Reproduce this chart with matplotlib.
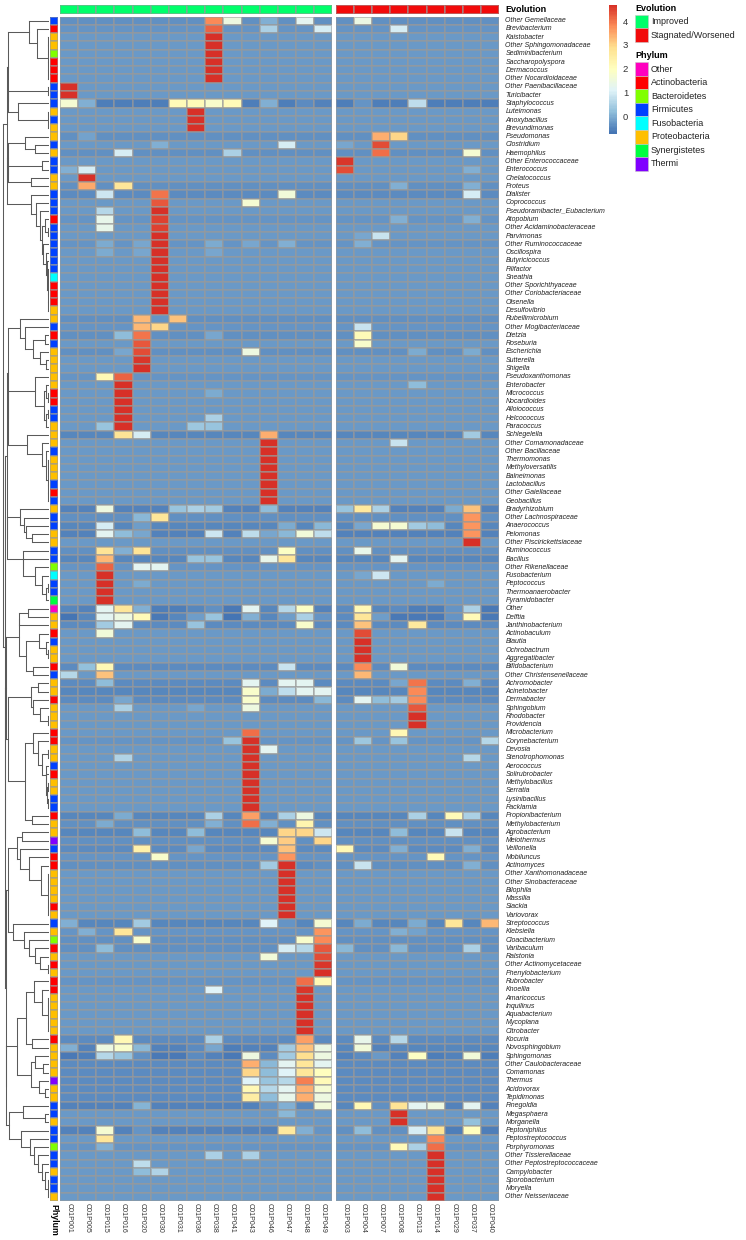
import matplotlib
matplotlib.use("Agg")
import matplotlib.pyplot as plt
import numpy as np
from matplotlib.cm import ScalarMappable
from matplotlib.colors import LinearSegmentedColormap, ListedColormap, Normalize
from matplotlib.patches import Rectangle

plt.rcParams['font.family'] = ['Liberation Sans', 'DejaVu Sans']

W, H = 746, 1240

SAMPLES_IMPROVED = ["001", "005", "015", "016", "020", "030", "031", "036",
                    "038", "041", "043", "046", "047", "048", "049"]
SAMPLES_WORSE = ["003", "004", "007", "008", "013", "014", "029", "037", "040"]

TAXA = [
    "Other Gemellaceae", "Brevibacterium", "Kaistobacter", "Other Sphingomonadaceae",
    "Sediminibacterium", "Saccharopolyspora", "Dermacoccus", "Other Nocardioidaceae",
    "Other Paenibacillaceae", "Turicibacter", "Staphylococcus", "Luteimonas",
    "Anoxybacillus", "Brevundimonas", "Pseudomonas", "Clostridium", "Haemophilus",
    "Other Enterococcaceae", "Enterococcus", "Chelatococcus", "Proteus", "Dialister",
    "Coprococcus", "Pseudoramibacter_Eubacterium", "Atopobium",
    "Other Acidaminobacteraceae", "Parvimonas", "Other Ruminococcaceae", "Oscillospira",
    "Butyricicoccus", "Filifactor", "Sneathia", "Other Sporichthyaceae",
    "Other Coriobacteriaceae", "Olsenella", "Desulfovibrio", "Rubellimicrobium",
    "Other Mogibacteriaceae", "Dietzia", "Roseburia", "Escherichia", "Sutterella",
    "Shigella", "Pseudoxanthomonas", "Enterobacter", "Micrococcus", "Nocardioides",
    "Alloiococcus", "Helcococcus", "Paracoccus", "Schlegelella", "Other Comamonadaceae",
    "Other Bacillaceae", "Thermomonas", "Methyloversatilis", "Balneimonas", "Lactobacillus",
    "Other Gaiellaceae", "Geobacillus", "Bradyrhizobium", "Other Lachnospiraceae",
    "Anaerococcus", "Pelomonas", "Other Piscirickettsiaceae", "Ruminococcus", "Bacillus",
    "Other Rikenellaceae", "Fusobacterium", "Peptococcus", "Thermoanaerobacter",
    "Pyramidobacter", "Other", "Delftia", "Janthinobacterium", "Actinobaculum", "Blautia",
    "Ochrobactrum", "Aggregatibacter", "Bifidobacterium", "Other Christensenellaceae",
    "Achromobacter", "Acinetobacter", "Dermabacter", "Sphingobium", "Rhodobacter",
    "Providencia", "Microbacterium", "Corynebacterium", "Devosia", "Stenotrophomonas",
    "Aerococcus", "Solirubrobacter", "Methylobacillus", "Serratia", "Lysinibacillus",
    "Facklamia", "Propionibacterium", "Methylobacterium", "Agrobacterium", "Meiothermus",
    "Veillonella", "Mobiluncus", "Actinomyces", "Other Xanthomonadaceae",
    "Other Sinobacteraceae", "Bilophila", "Massilia", "Slackia", "Variovorax",
    "Streptococcus", "Klebsiella", "Cloacibacterium", "Varibaculum", "Ralstonia",
    "Other Actinomycetaceae", "Phenylobacterium", "Rubrobacter", "Knoellia", "Amaricoccus",
    "Inquilinus", "Aquabacterium", "Mycoplana", "Citrobacter", "Kocuria", "Novosphingobium",
    "Sphingomonas", "Other Caulobacteraceae", "Comamonas", "Thermus", "Acidovorax",
    "Tepidimonas", "Finegoldia", "Megasphaera", "Morganella", "Peptoniphilus",
    "Peptostreptococcus", "Porphyromonas", "Other Tissierellaceae",
    "Other Peptostreptococcaceae", "Campylobacter", "Sporobacterium", "Moryella",
    "Other Neisseriaceae",
]

# one letter per taxon, keys of PHYLUM_COLORS
PHYLA = ("FAPPBAAAFF" "FPFPPFPFFP" "PFFFAFFFFF" "FUAAAPPFAF" "PPPPPAAFFP"
         "PPFPPPFAFP" "FFPPFFBUFF" "SOPPAFPPAF" "PPAPPPAAPP" "FAPPFFAPPT"
         "FAAPPPPAPF" "PBAPAPAAPP" "PPPAPPPPTP" "PFFPFFBFFP" "FFP")

PHYLUM_NAMES = ["Other", "Actinobacteria", "Bacteroidetes", "Firmicutes",
                "Fusobacteria", "Proteobacteria", "Synergistetes", "Thermi"]
PHYLUM_CODES = ["O", "A", "B", "F", "U", "P", "S", "T"]
PHYLUM_COLORS = ["#FF00BF", "#FF0000", "#80FF00", "#0040FF",
                 "#00FFFF", "#FFBF00", "#00FF40", "#8000FF"]

EVOLUTION_NAMES = ["Improved", "Stagnated/Worsened"]
EVOLUTION_COLORS = ["#00FF6A", "#F20A0A"]

HEAT_COLORS = ["#4575B4", "#91BFDB", "#E0F3F8", "#FFFFBF", "#FEE090", "#FC8D59", "#D73027"]
VMIN, VMAX = -0.72, 4.7

# background level of each row
ROW_BASE = [
    -.35, -.3, -.25, -.25, -.25, -.25, -.25, -.25, -.25, -.25,
    -.6, -.25, -.25, -.25, -.35, -.25, -.35, -.25, -.25, -.25,
    -.35, -.4, -.28, -.28, -.3, -.25, -.28, -.3, -.25, -.25,
    -.25, -.25, -.25, -.25, -.25, -.25, -.35, -.3, -.35, -.25,
    -.35, -.25, -.25, -.3, -.25, -.25, -.25, -.25, -.25, -.28,
    -.45, -.25, -.25, -.25, -.25, -.25, -.25, -.25, -.25, -.55,
    -.35, -.45, -.55, -.25, -.35, -.5, -.3, -.28, -.25, -.25,
    -.25, -.5, -.45, -.4, -.25, -.25, -.25, -.25, -.4, -.28,
    -.4, -.45, -.4, -.28, -.25, -.25, -.28, -.3, -.25, -.25,
    -.25, -.25, -.25, -.25, -.25, -.25, -.5, -.35, -.45, -.35,
    -.4, -.3, -.35, -.25, -.25, -.25, -.25, -.25, -.25, -.5,
    -.3, -.35, -.35, -.28, -.25, -.25, -.3, -.28, -.25, -.25,
    -.25, -.25, -.25, -.4, -.45, -.55, -.4, -.4, -.4, -.4,
    -.4, -.55, -.25, -.25, -.55, -.28, -.33, -.25, -.25, -.25,
    -.25, -.25, -.25,
]

# cells that differ from the row background, by sample number
CELLS = {
    "Other Gemellaceae": {"038": 3.8, "041": 1.5, "046": 0.0, "048": 1.2, "004": 1.4},
    "Brevibacterium": {"038": 4.2, "046": 0.5, "049": 1.0, "008": 1.0},
    "Kaistobacter": {"038": 4.7},
    "Other Sphingomonadaceae": {"038": 4.7},
    "Sediminibacterium": {"038": 4.7},
    "Saccharopolyspora": {"038": 4.7},
    "Dermacoccus": {"038": 4.7},
    "Other Nocardioidaceae": {"038": 4.7},
    "Other Paenibacillaceae": {"001": 4.7},
    "Turicibacter": {"001": 4.7},
    "Staphylococcus": {"001": 1.7, "005": 0.0, "031": 2.1, "036": 2.1, "038": 1.8, "041": 2.1,
                       "046": 0.0, "048": -.4, "049": -.55, "013": 0.7, "004": -.3},
    "Luteimonas": {"036": 4.7},
    "Anoxybacillus": {"036": 4.7},
    "Brevundimonas": {"036": 4.7},
    "Pseudomonas": {"005": -.15, "007": 3.4, "008": 3.0},
    "Clostridium": {"030": 0.0, "047": 1.0, "003": -.1, "007": 4.4},
    "Haemophilus": {"016": 1.0, "041": 0.5, "007": 4.1, "037": 1.7},
    "Other Enterococcaceae": {"003": 4.6},
    "Enterococcus": {"001": 0.0, "005": 1.0, "003": 4.4, "037": 0.0},
    "Chelatococcus": {"005": 4.7},
    "Proteus": {"005": 3.5, "016": 2.7, "008": 0.0, "037": 0.0},
    "Dialister": {"015": 0.9, "030": 4.0, "047": 1.6, "037": 1.0},
    "Coprococcus": {"030": 4.3, "043": 1.7},
    "Pseudoramibacter_Eubacterium": {"015": 0.6, "030": 4.7},
    "Atopobium": {"015": 1.3, "030": 4.5, "008": 0.0, "037": 0.0},
    "Other Acidaminobacteraceae": {"015": 1.3, "030": 4.5},
    "Parvimonas": {"030": 4.7, "004": -.1, "007": 0.8},
    "Other Ruminococcaceae": {"015": -.05, "020": -.1, "030": 4.7, "038": -.05, "043": -.1,
                              "047": 0.0, "004": 0.0},
    "Oscillospira": {"015": -.05, "020": -.1, "030": 4.7, "038": -.1},
    "Butyricicoccus": {"030": 4.7},
    "Filifactor": {"030": 4.7},
    "Sneathia": {"030": 4.7},
    "Other Sporichthyaceae": {"030": 4.7},
    "Other Coriobacteriaceae": {"030": 4.7},
    "Olsenella": {"030": 4.7},
    "Desulfovibrio": {"030": 4.7},
    "Rubellimicrobium": {"020": 3.3, "030": -.3, "031": 3.2},
    "Other Mogibacteriaceae": {"020": 3.3, "030": 3.0, "004": 0.8},
    "Dietzia": {"016": 0.2, "020": 4.0, "038": -.1, "004": 2.1},
    "Roseburia": {"020": 4.3, "004": 1.8},
    "Escherichia": {"016": -.1, "020": 4.4, "043": 1.5, "013": -.05, "037": -.05},
    "Sutterella": {"020": 4.6},
    "Shigella": {"020": 4.7},
    "Pseudoxanthomonas": {"015": 2.2, "016": 4.2},
    "Enterobacter": {"016": 4.7, "013": 0.2},
    "Micrococcus": {"016": 4.7, "038": -.05},
    "Nocardioides": {"016": 4.7},
    "Alloiococcus": {"016": 4.7},
    "Helcococcus": {"016": 4.7, "038": 0.5},
    "Paracoccus": {"015": 0.3, "016": 4.7, "036": 0.35, "038": 0.3},
    "Schlegelella": {"016": 2.8, "020": 1.0, "046": 3.4, "037": 0.4},
    "Other Comamonadaceae": {"046": 4.7, "008": 0.8},
    "Other Bacillaceae": {"046": 4.7},
    "Thermomonas": {"046": 4.7},
    "Methyloversatilis": {"046": 4.7},
    "Balneimonas": {"046": 4.7},
    "Lactobacillus": {"046": 4.7},
    "Other Gaiellaceae": {"046": 4.7},
    "Geobacillus": {"046": 4.7},
    "Bradyrhizobium": {"015": 1.5, "031": 0.3, "036": 0.5, "038": 0.4, "046": 0.2, "003": 0.3,
                       "004": 2.6, "007": 0.5, "029": -.05, "037": 3.2},
    "Other Lachnospiraceae": {"020": 0.1, "030": 2.7, "037": 3.7},
    "Anaerococcus": {"015": 1.0, "020": -.2, "047": -.05, "049": 0.1, "004": -.1, "007": 1.7,
                     "008": 1.7, "013": 0.4, "014": 0.2, "037": 3.7},
    "Pelomonas": {"015": 1.2, "016": 0.2, "020": -.1, "038": 0.9, "043": 0.7, "046": -.1,
                  "047": 0.1, "048": 1.6, "049": 0.7, "037": 3.7},
    "Other Piscirickettsiaceae": {"037": 4.7},
    "Ruminococcus": {"015": 2.8, "016": 0.0, "020": 2.8, "047": 1.9, "004": 1.3},
    "Bacillus": {"015": 3.3, "036": 0.3, "038": 0.3, "046": 1.3, "047": 2.7, "008": 1.2},
    "Other Rikenellaceae": {"015": 4.2, "020": 1.2, "030": 1.2},
    "Fusobacterium": {"015": 4.7, "004": -.1, "007": 0.9},
    "Peptococcus": {"015": 4.7, "020": -.05, "014": -.05},
    "Thermoanaerobacter": {"015": 4.7},
    "Pyramidobacter": {"015": 4.7},
    "Other": {"005": -.55, "015": 1.2, "016": 2.7, "020": 0.0, "030": -.6, "031": -.6, "036": -.45,
              "038": -.35, "041": -.65, "043": 1.2, "047": 0.6, "048": 1.9, "049": -.55, "003": -.4,
              "004": 2.2, "007": -.45, "008": -.4, "013": -.6, "014": -.6, "029": -.3, "037": 0.5,
              "040": -.65},
    "Delftia": {"001": -.7, "005": -.5, "015": 1.2, "016": 1.5, "020": 2.1, "030": -.65, "031": -.5,
                "036": -.2, "038": 0.3, "041": -.7, "043": 0.0, "047": -.2, "048": 0.5, "049": -.3,
                "003": -.4, "004": 2.7, "007": -.2, "008": -.65, "013": -.65, "014": -.65, "029": -.3,
                "037": 2.1, "040": -.65},
    "Janthinobacterium": {"015": 0.4, "016": 1.2, "036": 0.3, "048": 1.8, "004": 3.2, "013": 2.6},
    "Actinobaculum": {"015": 1.6, "004": 4.4},
    "Blautia": {"004": 4.7},
    "Ochrobactrum": {"004": 4.7},
    "Aggregatibacter": {"004": 4.7},
    "Bifidobacterium": {"005": 0.25, "015": 2.2, "047": 0.8, "004": 3.8, "008": 1.6},
    "Other Christensenellaceae": {"001": 0.6, "015": 3.2, "004": 3.3},
    "Achromobacter": {"015": 0.2, "043": 1.2, "047": 1.2, "048": 1.2, "008": -.1, "013": 4.0,
                      "037": 0.0},
    "Acinetobacter": {"043": 1.8, "046": -.05, "047": 0.7, "048": 1.2, "049": 1.2, "013": 3.8},
    "Dermabacter": {"016": -.1, "043": 1.8, "049": 0.1, "004": 1.2, "007": 0.2, "008": 0.4, "013": 3.8},
    "Sphingobium": {"016": 0.5, "036": -.1, "043": 1.5, "013": 4.3},
    "Rhodobacter": {"013": 4.7},
    "Providencia": {"013": 4.7},
    "Microbacterium": {"043": 4.1, "008": 2.2},
    "Corynebacterium": {"041": 0.3, "043": 4.7, "004": 0.35, "008": 0.3, "040": 0.6},
    "Devosia": {"043": 4.7, "046": 1.2},
    "Stenotrophomonas": {"016": 0.55, "043": 4.7, "037": 0.6},
    "Aerococcus": {"043": 4.7},
    "Solirubrobacter": {"043": 4.7},
    "Methylobacillus": {"043": 4.7},
    "Serratia": {"043": 4.7},
    "Lysinibacillus": {"043": 4.7},
    "Facklamia": {"043": 4.7},
    "Propionibacterium": {"016": -.05, "038": 0.5, "043": 3.6, "047": 0.5, "048": 1.5, "013": 0.5,
                          "029": 2.1, "037": 0.5},
    "Methylobacterium": {"015": -.05, "038": 0.0, "043": 4.1, "046": 0.0, "048": 2.3},
    "Agrobacterium": {"020": 0.2, "036": 0.15, "047": 3.0, "048": 3.0, "049": 0.9, "008": 0.2, "029": 0.8},
    "Meiothermus": {"046": 1.7, "047": 3.1, "049": 3.0},
    "Veillonella": {"020": 2.4, "036": -.1, "047": 3.2, "003": 2.2, "008": 0.0, "037": 0.0},
    "Mobiluncus": {"030": 1.8, "047": 3.7, "014": 2.1},
    "Actinomyces": {"046": 0.4, "047": 4.7, "048": -.4, "004": 0.8, "037": 0.0},
    "Other Xanthomonadaceae": {"047": 4.7},
    "Other Sinobacteraceae": {"047": 4.7},
    "Bilophila": {"047": 4.7},
    "Massilia": {"047": 4.7},
    "Slackia": {"047": 4.7},
    "Variovorax": {"047": 4.7},
    "Streptococcus": {"001": 0.0, "020": 0.4, "046": 1.1, "047": -.3, "049": 1.7, "004": -.05,
                      "013": -.05, "029": 2.7, "040": 3.3},
    "Klebsiella": {"005": 0.0, "016": 2.7, "049": 3.7, "008": 0.0, "013": -.15},
    "Cloacibacterium": {"020": 1.8, "048": 1.8, "049": 3.8},
    "Varibaculum": {"015": 0.15, "047": 1.0, "048": 0.6, "049": 4.3, "003": 0.1, "008": 0.1, "037": 0.5},
    "Ralstonia": {"046": 1.6, "049": 4.4},
    "Other Actinomycetaceae": {"049": 4.6},
    "Phenylobacterium": {"049": 4.7},
    "Rubrobacter": {"048": 4.1, "049": 2.2},
    "Knoellia": {"038": 1.1, "048": 4.6},
    "Amaricoccus": {"048": 4.7},
    "Inquilinus": {"048": 4.7},
    "Aquabacterium": {"048": 4.7},
    "Mycoplana": {"048": 4.7},
    "Citrobacter": {"048": 4.7},
    "Kocuria": {"016": 2.2, "038": 0.5, "048": 3.6, "004": 1.3, "008": 0.6},
    "Novosphingobium": {"001": 0.0, "005": -.55, "015": 1.5, "016": 1.8, "020": 0.1, "030": -.55,
                        "031": -.55, "036": -.4, "038": -.1, "041": -.6, "043": -.55, "046": -.55,
                        "047": 0.4, "048": 3.2, "049": 1.4, "004": 1.6, "007": -.55, "008": -.5},
    "Sphingomonas": {"001": -.65, "005": -.6, "015": 0.6, "016": 0.3, "020": -.35, "030": -.65,
                     "031": -.65, "036": -.4, "041": -.65, "043": 1.5, "046": -.4, "047": 0.4,
                     "048": 2.9, "049": 1.5, "004": -.4, "007": -.25, "013": 1.9, "014": -.6,
                     "037": 1.6, "040": -.6},
    "Other Caulobacteraceae": {"043": 3.4, "046": 0.1, "047": 1.2, "048": 2.7, "049": 1.2},
    "Comamonas": {"043": 3.0, "046": 0.2, "047": 1.1, "048": 2.7, "049": 2.0},
    "Thermus": {"043": 1.1, "046": 0.3, "047": 0.6, "048": 3.9, "049": 2.1},
    "Acidovorax": {"043": 2.2, "046": 0.6, "047": 1.2, "048": 3.4, "049": 1.7},
    "Tepidimonas": {"043": 2.5, "046": 0.2, "047": 1.3, "048": 3.4, "049": 1.5},
    "Finegoldia": {"020": 0.05, "046": -.3, "047": 0.0, "048": -.5, "049": 1.6, "003": -.45,
                   "004": 2.2, "007": -.35, "008": 2.8, "013": 1.2, "014": 1.5, "037": 1.2},
    "Megasphaera": {"047": 0.1, "008": 4.7},
    "Morganella": {"008": 4.7, "037": 0.25},
    "Peptoniphilus": {"015": 1.7, "020": -.3, "047": 2.6, "048": 0.0, "049": -.3, "003": -.35,
                      "004": 0.2, "007": -.35, "008": -.35, "013": 1.0, "014": 2.8, "029": -.6,
                      "037": 2.0, "040": -.6},
    "Peptostreptococcus": {"015": 2.7, "014": 3.8},
    "Porphyromonas": {"015": 0.0, "008": 2.1, "013": 0.5, "014": 4.1},
    "Other Tissierellaceae": {"038": 0.5, "043": 0.5, "014": 4.7},
    "Other Peptostreptococcaceae": {"020": 0.7, "014": 4.7},
    "Campylobacter": {"020": 0.2, "030": 0.55, "014": 4.7},
    "Sporobacterium": {"014": 4.7},
    "Moryella": {"014": 4.7},
    "Other Neisseriaceae": {"014": 4.7},
}

# row tree as (height, child, child...), an int child is that many neighbouring leaves
TREE_TOP = (126,
            (123, (60, 1, (35, 1, 6)), (122, 2, (92, 1, 3))),
            (125,
             (123, (72, 1, (42, 1, 1)), (122, (22, 1, 1), (55, 1, 1))),
             (54, 1, (40, 1, (27, 1, (22, (12, 1, 2), (18, 1, (10, 1, (6, 1, 6)))))))))
TREE_MID = (127,
            (123, (88, 1, (72, 1, (47, (12, 1, 1), (28, 1, (8, 1, 1))))),
             (122, (42, 1, (14, (8, 1, 2), (10, 2, 1))), (65, 1, (20, 1, (8, 1, 6))))),
            (126, (87, 1, (74, 1, (69, 1, (50, 1, 1)))),
             (78, 1, (77, 1, (42, 1, (20, 1, (10, 2, 1)))))))
TREE_LOW = (131,
            (128, (91, (90, (62, 1, 1), 1), (69, (29, 1, (10, 1, 2)), (47, 1, 1))),
             (122, (53, (34, 1, 1), (47, 1, (28, 1, 2))),
              (72, (47, 1, (33, 1, (22, 2, (10, 1, (8, 1, (6, 2, 2)))))), (52, 1, 1)))),
            (129,
             (123, (95, (82, 1, 1), (87, 1, (59, 1, (25, 1, 6)))),
              (107, 1, (75, 1, (59, 1, (42, 1, (27, 1, 2)))))),
             (128, (97, (69, (44, 1, (22, 1, 5)), (52, 1, 1)),
                    (55, (42, 1, (17, 1, 1)), (29, 1, (12, 1, 1)))),
              (119, (79, 1, (12, 1, 1)),
               (85, 1, (57, 1, (45, 1, (32, 1, (22, 1, (12, 1, 3))))))))))
TREE = (137, TREE_TOP, (133, TREE_MID, TREE_LOW))

TREE_COLOR = "#5a5a5a"
TREE_LW = 0.75
GRID = (0.6, 0.6, 0.6, 0.55)
TOP, BOTTOM = 16.5, 1201.0


def px_axes(fig, x0, y0, x1, y1):
    """ axes from pixel box, y counted from the top of the picture """
    ax = fig.add_axes([x0 / W, 1 - y1 / H, (x1 - x0) / W, (y1 - y0) / H])
    ax.set_xticks([])
    ax.set_yticks([])
    for s in ax.spines.values():
        s.set_visible(False)
    return ax


def draw_tree(ax, node, next_row):
    """ returns y, height and the next free row """
    if isinstance(node, int):
        if node == 1:
            return next_row + 0.5, 0, next_row + 1
        ys = [next_row + i + 0.5 for i in range(node)]
        for y in ys:
            ax.plot([0, 3], [y, y], color=TREE_COLOR, lw=TREE_LW)
        ax.plot([3, 3], [ys[0], ys[-1]], color=TREE_COLOR, lw=TREE_LW)
        return (ys[0] + ys[-1]) / 2, 3, next_row + node
    height, children = node[0], node[1:]
    ys = []
    for child in children:
        y, h, next_row = draw_tree(ax, child, next_row)
        ax.plot([h, height], [y, y], color=TREE_COLOR, lw=TREE_LW)
        ys.append(y)
    ax.plot([height, height], [ys[0], ys[-1]], color=TREE_COLOR, lw=TREE_LW)
    return (ys[0] + ys[-1]) / 2, height, next_row


assert len(TAXA) == len(PHYLA) == len(ROW_BASE) == 143

samples = SAMPLES_IMPROVED + SAMPLES_WORSE
values = np.array([[CELLS.get(t, {}).get(s, b) for s in samples]
                   for t, b in zip(TAXA, ROW_BASE)])
n_rows = len(TAXA)

cmap = LinearSegmentedColormap.from_list("rdylbu", HEAT_COLORS, N=100)
norm = Normalize(VMIN, VMAX)

fig = plt.figure(figsize=(W / 100, H / 100), dpi=100)

# heatmap, two blocks
blocks = [(SAMPLES_IMPROVED, 60.0, 332.3, 0), (SAMPLES_WORSE, 336.0, 499.0, 1)]
for names, x0, x1, evo in blocks:
    ax = px_axes(fig, x0, TOP, x1, BOTTOM)
    idx = [samples.index(s) for s in names]
    ax.pcolormesh(values[:, idx], cmap=cmap, norm=norm, edgecolors=[GRID], linewidth=0.35)
    ax.set_ylim(n_rows, 0)
    ax.set_xlim(0, len(names))

    top = px_axes(fig, x0, 5.0, x1, 14.2)
    top.pcolormesh(np.zeros((1, len(names))), cmap=ListedColormap([EVOLUTION_COLORS[evo]]),
                   edgecolors=[GRID], linewidth=0.3)
    top.set_ylim(1, 0)

    ax.set_xticks(np.arange(len(names)) + 0.5)
    ax.set_xticklabels(["C01P" + s for s in names], rotation=270, fontsize=5.1, color="#333333")
    ax.tick_params(axis="x", length=0, pad=1.5)

# phylum strip
strip = px_axes(fig, 49.5, TOP, 57.7, BOTTOM)
codes = np.array([[PHYLUM_CODES.index(c)] for c in PHYLA])
strip.pcolormesh(codes, cmap=ListedColormap(PHYLUM_COLORS), vmin=-0.5, vmax=7.5,
                 edgecolors=[GRID], linewidth=0.25)
strip.set_ylim(n_rows, 0)

# row labels
for i, t in enumerate(TAXA):
    fig.text(505.5 / W, 1 - (TOP + (i + 0.5) * (BOTTOM - TOP) / n_rows) / H, t, fontsize=5.0,
             style="italic", va="center", ha="left", color="#222222")

fig.text(505.5 / W, 1 - 10 / H, "Evolution", fontsize=6.5, fontweight="bold", va="center", ha="left")
fig.text(53.5 / W, 1 - 1203.5 / H, "Phylum", fontsize=6.3, fontweight="bold", rotation=270,
         va="top", ha="center")

# dendrogram
tree_ax = px_axes(fig, 0, TOP, 49.0, BOTTOM)
draw_tree(tree_ax, TREE, 0)
tree_ax.set_xlim(147, 0)
tree_ax.set_ylim(n_rows, 0)

# colour bar
cax = px_axes(fig, 609.3, 4.5, 617.3, 133.5)
cb = fig.colorbar(ScalarMappable(norm=norm, cmap=cmap), cax=cax, ticks=[0, 1, 2, 3, 4])
cb.outline.set_visible(False)
cb.ax.tick_params(length=0, labelsize=6.8, pad=4, labelcolor="#333333")

# legends
leg = px_axes(fig, 0, 0, W, H)
leg.set_xlim(0, W)
leg.set_ylim(H, 0)
leg.patch.set_alpha(0)


def legend_block(title, title_y, first_y, names, colors):
    leg.text(635, title_y, title, fontsize=6.5, fontweight="bold", va="center", ha="left")
    for i, (name, col) in enumerate(zip(names, colors)):
        y = first_y + i * 13.54
        leg.add_patch(Rectangle((635, y), 13.4, 13.54, facecolor=col, edgecolor="#c8c8c8", lw=0.4))
        leg.text(650.8, y + 6.9, name, fontsize=6.5, va="center", ha="left", color="#222222")


legend_block("Evolution", 8.7, 14.7, EVOLUTION_NAMES, EVOLUTION_COLORS)
legend_block("Phylum", 56, 62.3, PHYLUM_NAMES, PHYLUM_COLORS)

fig.savefig("out.png", dpi=100)
